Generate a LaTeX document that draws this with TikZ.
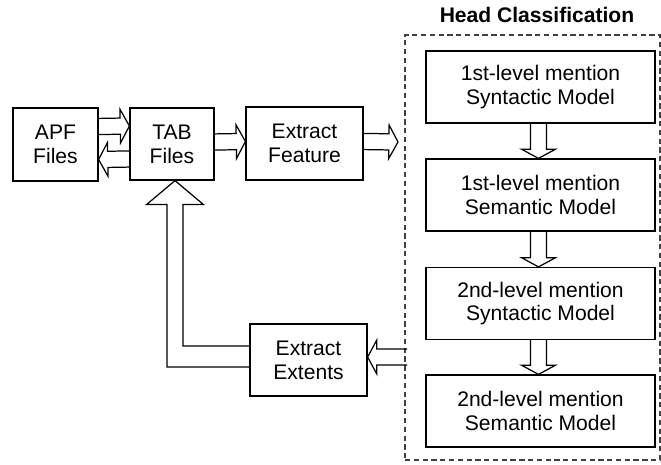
\documentclass[tikz,border=0pt]{standalone}
\usepackage{fontspec}
\setmainfont{Liberation Sans}
\usetikzlibrary{positioning,calc}

\tikzset{
  box/.style={draw=black, line width=0.7pt, align=center, inner sep=2pt,
    font=\fontsize{12}{13.6}\selectfont},
  fat/.style={draw=black, line width=0.7pt, line join=miter},
  frame/.style={draw=black!75, line width=0.8pt, dash pattern=on 3pt off 2pt},
  title/.style={font=\fontsize{12}{14}\selectfont\bfseries}
}

% hollow block arrow from #1 to #2
\newcommand{\fatarrow}[2]{%
  \draw[fat] let \p1=(#1), \p2=(#2),
      \n1={atan2(\y2-\y1,\x2-\x1)}, \n2={veclen(\x2-\x1,\y2-\y1)},
      \n3={veclen(\x2-\x1,\y2-\y1)-5.2} in
    [shift={(\p1)}, rotate=\n1]
    (0pt,-4.6pt) -- (\n3,-4.6pt) -- (\n3,-9.6pt) -- (\n2,0pt)
    -- (\n3,9.6pt) -- (\n3,4.6pt) -- (0pt,4.6pt);
}

\begin{document}
\begin{tikzpicture}[x=0.02cm, y=-0.02cm]
\useasboundingbox (0,0) rectangle (661,465);

\node[box, minimum width=1.7cm, minimum height=1.46cm] (apf) at (55.5,144.5) {APF\\Files};
\node[box, minimum width=1.68cm, minimum height=1.44cm] (tab) at (172,144) {TAB\\Files};
\node[box, minimum width=2.34cm, minimum height=1.46cm] (feat) at (304.5,143.5) {Extract\\Feature};
\node[box, minimum width=2.34cm, minimum height=1.44cm] (ext) at (308.5,360) {Extract\\Extents};

% head classification stage
\node[frame, minimum width=5.1cm, minimum height=8.5cm] (hc) at (532.5,247.5) {};
\node[title] (hctitle) at (537,15) {Head Classification};

\node[box, minimum width=4.58cm, minimum height=1.44cm] (m1) at (540.5,87) {1st-level mention\\Syntactic Model};
\node[box, minimum width=4.58cm, minimum height=1.44cm] (m2) at (540.5,195) {1st-level mention\\Semantic Model};
\node[box, minimum width=4.58cm, minimum height=1.44cm] (m3) at (540.5,303.5) {2nd-level mention\\Syntactic Model};
\node[box, minimum width=4.58cm, minimum height=1.44cm] (m4) at (540.5,411) {2nd-level mention\\Semantic Model};

\coordinate (fin) at (398,142);
\coordinate (fout) at (407,357);

\fatarrow{$(apf.east)+(0,-18)$}{$(tab.west)+(0,-18)$}
\fatarrow{$(tab.west)+(0,15)$}{$(apf.east)+(0,15)$}
\fatarrow{$(tab.east)+(0,-2)$}{$(feat.west)+(0,-2)$}
\fatarrow{$(feat.east)+(0,-2)$}{fin}
\fatarrow{$(m1.south)+(-2,0)$}{$(m2.north)+(-2,0)$}
\fatarrow{$(m2.south)+(-2,0)$}{$(m3.north)+(-2,0)$}
\fatarrow{$(m3.south)+(-2,0)$}{$(m4.north)+(-2,0)$}
\fatarrow{fout}{ext.east |- fout}

% extents back into the tab files
\coordinate (tip) at ($(tab.south)+(3,0)$);
\draw[fat] ($(ext.west)+(0,-14)$) -| ($(tip)+(8,24)$) -- ($(tip)+(28.5,24)$) -- (tip)
  -- ($(tip)+(-28.5,24)$) -- ($(tip)+(-8,24)$) |- ($(ext.west)+(0,7)$);

\end{tikzpicture}
\end{document}
